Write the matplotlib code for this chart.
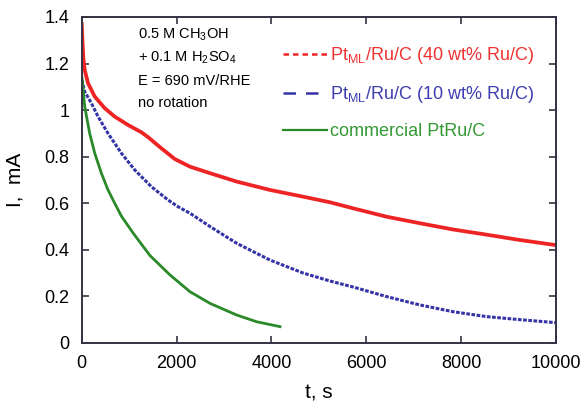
import matplotlib
matplotlib.use("Agg")
import matplotlib.pyplot as plt
from matplotlib.lines import Line2D
from matplotlib.ticker import FuncFormatter

plt.rcParams["font.family"] = ["Liberation Sans", "DejaVu Sans"]
plt.rcParams["mathtext.fontset"] = "custom"
plt.rcParams["mathtext.rm"] = "Liberation Sans"

# Chronoamperometry traces (time in s, current in mA)
t_40 = [0, 15, 35, 63, 133, 274, 485, 695, 976, 1256, 1397, 1678, 1960, 2282,
        2704, 3266, 3968, 4670, 5233, 5724, 6428, 7130, 7832, 8535, 9237, 10000]
i_40 = [1.37, 1.30, 1.22, 1.172, 1.115, 1.058, 1.008, 0.972, 0.936, 0.905, 0.884,
        0.836, 0.790, 0.757, 0.729, 0.693, 0.657, 0.628, 0.604, 0.578, 0.542,
        0.514, 0.487, 0.465, 0.442, 0.42]

t_10 = [0, 63, 203, 344, 554, 835, 1117, 1468, 1819, 2030, 2282, 2704, 3266,
        3968, 4670, 5233, 5724, 6428, 7130, 7832, 8535, 9237, 10000]
i_10 = [1.13, 1.079, 1.03, 0.972, 0.90, 0.815, 0.743, 0.671, 0.614, 0.585,
        0.557, 0.50, 0.428, 0.356, 0.30, 0.266, 0.240, 0.199, 0.163, 0.134,
        0.113, 0.100, 0.087]

t_com = [0, 63, 168, 274, 414, 554, 695, 835, 1090, 1440, 1861, 2282, 2704,
         3266, 3688, 4179]
i_com = [1.15, 1.015, 0.90, 0.815, 0.729, 0.657, 0.60, 0.545, 0.47, 0.375,
         0.292, 0.22, 0.17, 0.12, 0.091, 0.07]

labels = [r"Pt$_{\rm ML}$/Ru/C (40 wt% Ru/C)",
          r"Pt$_{\rm ML}$/Ru/C (10 wt% Ru/C)",
          "commercial PtRu/C"]
colors = ["#ee2424", "#3434a8", "#2a8a2a"]
text_colors = ["#ee3333", "#3d3db0", "#339933"]

conditions = ["0.5 M CH$_3$OH", "+ 0.1 M H$_2$SO$_4$", "E = 690 mV/RHE",
              "no rotation"]

fig = plt.figure(figsize=(5.85, 4.03), dpi=100)
ax = fig.add_axes([0.1397, 0.149, 0.811, 0.809])

ax.plot(t_40, i_40, color=colors[0], lw=2.7, solid_joinstyle="round")
ax.plot(t_10, i_10, color=colors[1], lw=2.2, ls=(0, (1.2, 0.5)))
ax.plot(t_com, i_com, color=colors[2], lw=2.0, solid_joinstyle="round")

ax.set_xlim(0, 10000)
ax.set_ylim(0, 1.4)
ax.set_xticks(range(0, 10001, 2000))
ax.set_yticks([0, 0.2, 0.4, 0.6, 0.8, 1.0, 1.2, 1.4])
ax.yaxis.set_major_formatter(FuncFormatter(lambda v, p: f"{v:g}"))
ax.tick_params(direction="in", length=5, width=1.2, labelsize=13,
               top=True, right=True, color="#333344")
ax.tick_params(axis="x", pad=9)
ax.tick_params(axis="y", pad=9)
for s in ax.spines.values():
    s.set_color("#333344")
    s.set_linewidth(1.4)

ax.set_xlabel("t, s", fontsize=15, labelpad=8)
ax.set_ylabel("I,  mA", fontsize=15, labelpad=14)

for k, line in enumerate(conditions):
    ax.text(0.118, 0.945 - k * 0.07, line, transform=ax.transAxes,
            fontsize=10.5, va="center", ha="left")

handles = [Line2D([], [], color=colors[0], lw=1.8, ls=(0, (2.2, 1.6))),
           Line2D([], [], color=colors[1], lw=1.8, ls=(0, (5, 4))),
           Line2D([], [], color=colors[2], lw=1.6)]
leg = ax.legend(handles, labels, loc="upper left", bbox_to_anchor=(0.41, 0.935),
                frameon=False, fontsize=13, handlelength=2.4,
                handletextpad=0.15, labelspacing=1.0, borderaxespad=0)
for txt, c in zip(leg.get_texts(), text_colors):
    txt.set_color(c)

fig.savefig("out.png", dpi=100)
